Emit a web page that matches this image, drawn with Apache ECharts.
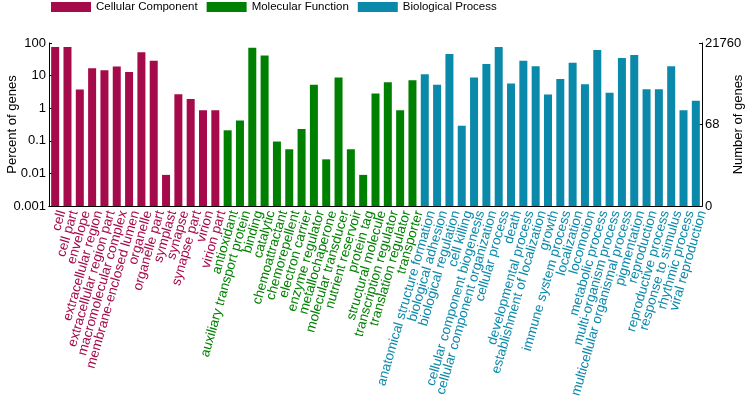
<!DOCTYPE html>
<html>
<head>
<meta charset="utf-8">
<script src="https://cdn.jsdelivr.net/npm/echarts@6/dist/echarts.min.js"></script>
<style>html,body{margin:0;padding:0;background:#fff}#c{width:749px;height:400px}</style>
</head>
<body>
<div id="c"></div>
<script>
const groupNames = ['Cellular Component', 'Molecular Function', 'Biological Process'];
const groupColors = ['#a50a4a', '#008000', '#0b89aa'];

const ccTerms = ['cell', 'cell part', 'envelope', 'extracellular region', 'extracellular region part',
  'macromolecular complex', 'membrane-enclosed lumen', 'organelle', 'organelle part', 'symplast',
  'synapse', 'synapse part', 'virion', 'virion part'];
const ccValues = [76, 76, 3.75, 16.9, 14.7, 18.9, 12.8, 52, 28.7, 0.009, 2.7, 1.9, 0.87, 0.87];

const mfTerms = ['antioxidant', 'auxiliary transport protein', 'binding', 'catalytic', 'chemoattractant',
  'chemorepellent', 'electron carrier', 'enzyme regulator', 'metallochaperone', 'molecular transducer',
  'nutrient reservoir', 'protein tag', 'structural molecule', 'transcription regulator',
  'translation regulator', 'transporter'];
const mfValues = [0.21, 0.42, 71, 41.5, 0.095, 0.055, 0.23, 5.2, 0.027, 8.8, 0.055, 0.009, 2.8, 6.2, 0.87, 7.2];

const bpTerms = ['anatomical structure formation', 'biological adhesion', 'biological regulation',
  'cell killing', 'cellular component biogenesis', 'cellular component organization', 'cellular process',
  'death', 'developmental process', 'establishment of localization', 'growth', 'immune system process',
  'localization', 'locomotion', 'metabolic process', 'multi-organism process',
  'multicellular organismal process', 'pigmentation', 'reproduction', 'reproductive process',
  'response to stimulus', 'rhythmic process', 'viral reproduction'];
const bpValues = [11, 5.2, 46, 0.29, 8.8, 22.7, 76, 5.7, 28.7, 19.4, 2.65, 7.9, 25, 5.4, 61, 3.0,
  34.5, 43, 3.8, 3.8, 19.4, 0.87, 1.7];

// left axis: percent of genes, log10 decades from 0.001 to 100
const leftTickLabels = ['0.001', '0.01', '0.1', '1', '10', '100'];
const leftMinPercent = 0.001;
// right axis: number of genes
const rightTickLabels = ['0', '68', '21760'];

const categories = ccTerms.concat(mfTerms, bpTerms);
const groupOf = [].concat(ccTerms.map(() => 0), mfTerms.map(() => 1), bpTerms.map(() => 2));
const groupValues = [ccValues, mfValues, bpValues];
const offsets = [0, ccTerms.length, ccTerms.length + mfTerms.length];
const decades = leftTickLabels.length - 1;
// position on the log-percent scale, in decades above the axis minimum
const toDecades = v => Math.log10(v / leftMinPercent);

const series = groupNames.map((name, g) => {
  const data = categories.map(() => null);
  groupValues[g].forEach((v, i) => { data[offsets[g] + i] = toDecades(v); });
  return {
    name: name, type: 'bar', data: data, barWidth: 8, barGap: '-100%',
    itemStyle: { color: groupColors[g] }, xAxisIndex: 0, yAxisIndex: 0
  };
});

const font = 'Liberation Sans, Arial, sans-serif';
const chart = echarts.init(document.getElementById('c'), null, { renderer: 'canvas' });
chart.setOption({
  animation: false,
  legend: {
    data: groupNames, top: 1, left: 51, padding: 0, icon: 'rect', itemWidth: 40, itemHeight: 10, itemGap: 9,
    textStyle: { fontFamily: font, fontSize: 11.5, color: '#000' }
  },
  grid: { left: 49, right: 47, top: 43, bottom: 194, show: false, outerBoundsMode: 'none', containLabel: false },
  xAxis: [{
    type: 'category', data: categories, position: 'bottom',
    axisLine: { lineStyle: { color: '#000', width: 1 } },
    axisTick: { inside: true, length: 3, lineStyle: { color: '#000' } },
    axisLabel: {
      interval: 0, rotate: 74, fontSize: 13.5, fontFamily: font, margin: 3, verticalAlign: 'top',
      hideOverlap: false,
      color: (v) => groupColors[groupOf[categories.indexOf(v)]]
    }
  }, {
    type: 'category', data: categories, position: 'top',
    axisLine: { lineStyle: { color: '#000', width: 1 } },
    axisTick: { inside: true, length: 3, lineStyle: { color: '#000' } },
    axisLabel: { show: false }
  }],
  yAxis: [{
    type: 'value', min: 0, max: decades, interval: 1, position: 'left',
    name: 'Percent of genes', nameLocation: 'middle', nameGap: 30, nameMoveOverlap: false,
    nameTextStyle: { fontFamily: font, fontSize: 13, color: '#000' },
    axisLine: { show: true, lineStyle: { color: '#000' } },
    axisTick: { show: true, inside: true, length: 3, lineStyle: { color: '#000' } },
    splitLine: { show: false },
    axisLabel: { fontFamily: font, fontSize: 13, color: '#000', margin: 3,
      formatter: (v, i) => leftTickLabels[i] }
  }, {
    type: 'value', min: 0, max: decades, interval: decades / 2, position: 'right',
    name: 'Number of genes', nameLocation: 'middle', nameGap: 30, nameMoveOverlap: false,
    nameTextStyle: { fontFamily: font, fontSize: 13, color: '#000' },
    axisLine: { show: true, lineStyle: { color: '#000' } },
    axisTick: { show: true, inside: true, length: 3, lineStyle: { color: '#000' } },
    splitLine: { show: false },
    axisLabel: { fontFamily: font, fontSize: 13, color: '#000', margin: 3,
      formatter: (v, i) => rightTickLabels[i] }
  }],
  series: series
});
</script>
</body>
</html>
